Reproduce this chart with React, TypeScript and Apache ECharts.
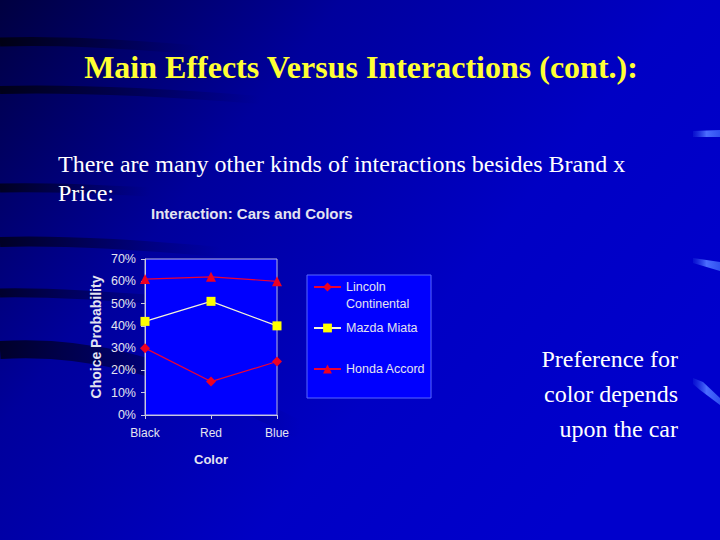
import React, { useEffect, useRef } from "react";
import * as echarts from "echarts";

const colors = ["Black", "Red", "Blue"];
const lincoln = [30, 15, 24];
const mazda = [42, 51, 40];
const honda = [61, 62, 60];
const seriesNames = ["Lincoln Continental", "Mazda Miata", "Honda Accord"];

const SANS = "Liberation Sans, Arial, sans-serif";
const SERIF = "Liberation Serif, Times New Roman, serif";

function swoosh(x1: number, y1: number, cx1: number, cy1: number, cx2: number, cy2: number, x2: number, y2: number, w: number, a: number) {
  return {
    type: "bezierCurve",
    silent: true,
    z: -10,
    shape: { x1, y1, cpx1: cx1, cpy1: cy1, cpx2: cx2, cpy2: cy2, x2, y2 },
    style: {
      fill: null,
      lineWidth: w,
      stroke: new echarts.graphic.LinearGradient(0, 0, 1, 0, [
        { offset: 0, color: `rgba(0,0,10,${a})` },
        { offset: 0.5, color: `rgba(0,0,30,${a * 0.5})` },
        { offset: 1, color: "rgba(0,0,60,0)" },
      ]),
    },
  };
}

function tab(points: number[][]) {
  return {
    type: "polygon",
    silent: true,
    z: -5,
    shape: { points },
    style: {
      fill: new echarts.graphic.LinearGradient(0, 0, 1, 0, [
        { offset: 0, color: "rgba(40,70,230,0.2)" },
        { offset: 0.5, color: "#4a6cff" },
        { offset: 1, color: "#3050f0" },
      ]),
    },
  };
}

export default function App() {
  const ref = useRef<HTMLDivElement>(null);
  useEffect(() => {
    if (!ref.current) return;
    const chart = echarts.init(ref.current, null, { renderer: "svg" });
    const legendText = { color: "#e4e4f0", fontSize: 12.5, fontFamily: SANS, lineHeight: 17 };
    const legendCommon = {
      left: 313,
      padding: 0,
      itemWidth: 27,
      itemHeight: 11,
      itemGap: 5,
      selectedMode: false,
      z: 5,
    };
    chart.setOption({
      animation: false,
      backgroundColor: new echarts.graphic.LinearGradient(0, 0, 1, 0.6, [
        { offset: 0, color: "#000040" },
        { offset: 0.35, color: "#00009c" },
        { offset: 0.7, color: "#0000c4" },
        { offset: 1, color: "#0000cc" },
      ]),
      title: [
        {
          text: "Main Effects Versus Interactions (cont.):",
          left: 361,
          top: 67,
          textAlign: "center",
          textVerticalAlign: "middle",
          textStyle: { color: "#ffff33", fontFamily: SERIF, fontWeight: "bold", fontSize: 32 },
          padding: 0,
        },
        {
          text: "Interaction: Cars and Colors",
          left: 151,
          top: 206,
          padding: 0,
          textStyle: { color: "#e4e4f0", fontFamily: SANS, fontWeight: "bold", fontSize: 15 },
        },
      ],
      graphic: [
        swoosh(0, 42, 60, 40, 120, 44, 200, 50, 9, 0.85),
        swoosh(0, 90, 80, 88, 160, 92, 260, 100, 8, 0.8),
        swoosh(0, 188, 40, 187, 80, 188, 150, 192, 9, 0.75),
        swoosh(0, 242, 60, 240, 130, 244, 220, 252, 10, 0.75),
        swoosh(0, 293, 50, 292, 110, 296, 190, 302, 9, 0.7),
        swoosh(0, 350, 80, 345, 160, 360, 300, 430, 18, 0.75),
        tab([[693, 131], [720, 130], [720, 137], [693, 137]]),
        tab([[693, 258], [720, 262], [720, 271], [693, 263]]),
        tab([[693, 378], [703, 382], [720, 398], [720, 405], [700, 390], [693, 384]]),
        {
          type: "text",
          silent: true,
          style: {
            text: "There are many other kinds of interactions besides Brand x\nPrice:",
            x: 58,
            y: 149,
            fill: "#ffffff",
            font: `24px ${SERIF}`,
            lineHeight: 29,
          },
        },
        {
          type: "text",
          silent: true,
          style: {
            text: "Preference for\ncolor depends\nupon the car",
            x: 678,
            y: 394,
            textAlign: "right",
            textVerticalAlign: "middle",
            fill: "#ffffff",
            font: `24px ${SERIF}`,
            lineHeight: 35,
          },
        },
        {
          type: "rect",
          silent: true,
          z: 1,
          shape: { x: 307, y: 275, width: 124, height: 123 },
          style: { fill: "#0000ff", stroke: "#5868ff", lineWidth: 1 },
        },
      ],
      legend: [
        {
          ...legendCommon,
          data: [seriesNames[0]],
          top: 261.5,
          formatter: () => " \nLincoln\nContinental",
          textStyle: legendText,
        },
        {
          ...legendCommon,
          data: [seriesNames[1]],
          top: 319.5,
          textStyle: legendText,
        },
        {
          ...legendCommon,
          data: [seriesNames[2]],
          top: 360.5,
          textStyle: legendText,
        },
      ],
      grid: {
        left: 145,
        right: 443,
        top: 259,
        bottom: 125,
        show: true,
        backgroundColor: "#0000ff",
        borderColor: "#b8b8e0",
        borderWidth: 1,
      },
      xAxis: {
        type: "category",
        data: colors,
        boundaryGap: false,
        name: "Color",
        nameLocation: "middle",
        nameGap: 38,
        nameTextStyle: { color: "#e4e4f0", fontFamily: SANS, fontWeight: "bold", fontSize: 13 },
        axisLine: { lineStyle: { color: "#c8c8e0" } },
        axisTick: { show: true, length: 4, lineStyle: { color: "#c8c8e0" } },
        axisLabel: { color: "#e4e4f0", fontFamily: SANS, fontSize: 12, margin: 12 },
        splitLine: { show: false },
      },
      yAxis: {
        type: "value",
        min: 0,
        max: 70,
        interval: 10,
        name: "Choice Probability",
        nameLocation: "middle",
        nameGap: 42,
        nameTextStyle: { color: "#e4e4f0", fontFamily: SANS, fontWeight: "bold", fontSize: 14 },
        axisLine: { show: true, lineStyle: { color: "#c8c8e0" } },
        axisTick: { show: true, length: 4, lineStyle: { color: "#c8c8e0" } },
        axisLabel: { color: "#e4e4f0", fontFamily: SANS, fontSize: 12.5, margin: 9, formatter: "{value}%" },
        splitLine: { show: false },
      },
      series: [
        {
          name: seriesNames[0],
          type: "line",
          data: lincoln,
          symbol: "diamond",
          symbolSize: 10,
          lineStyle: { color: "#ee0033", width: 1.2 },
          itemStyle: { color: "#ee0022" },
        },
        {
          name: seriesNames[1],
          type: "line",
          data: mazda,
          symbol: "rect",
          symbolSize: 9,
          lineStyle: { color: "#f4f4d8", width: 1.2 },
          itemStyle: { color: "#ffff00" },
        },
        {
          name: seriesNames[2],
          type: "line",
          data: honda,
          symbol: "triangle",
          symbolSize: 10,
          lineStyle: { color: "#ee0033", width: 1.2 },
          itemStyle: { color: "#ee0022" },
        },
      ],
    });
    return () => chart.dispose();
  }, []);
  return <div ref={ref} style={{ position: "fixed", left: 0, top: 0, width: 720, height: 540 }} />;
}
